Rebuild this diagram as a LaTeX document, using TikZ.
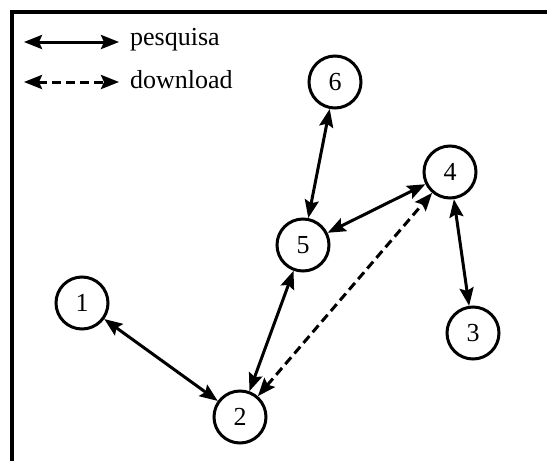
\documentclass[tikz,border=0pt]{standalone}
\usepackage{fontspec}
\setmainfont{Liberation Serif}
\usetikzlibrary{arrows.meta}
\begin{document}
\begin{tikzpicture}[x=1pt,y=-1pt,
  peer/.style={circle,draw,line width=3pt,minimum size=52pt,inner sep=0pt,font=\fontsize{26}{30}\selectfont},
  link/.style={line width=3pt,{Stealth[length=18pt,width=14pt,inset=3pt]}-{Stealth[length=18pt,width=14pt,inset=3pt]}},
  dl/.style={link,dash pattern=on 9pt off 5pt},
  lbl/.style={anchor=west,inner sep=0pt,font=\fontsize{26}{30}\selectfont}]
\useasboundingbox (0,0) rectangle (547,461);
\draw[line width=3.2pt] (547,12) -- (12,12) -- (12,461);
% legend
\coordinate (p1) at (24,42);
\coordinate (p2) at (119,42);
\coordinate (d1) at (24,82);
\coordinate (d2) at (119,82);
\draw[link] (p1) -- (p2);
\draw[dl] (d1) -- (d2);
\node[lbl] (tp) at (130,40) {pesquisa};
\node[lbl] (td) at (130,80) {download};
% peers
\node[peer] (n6) at (335,82) {6};
\node[peer] (n4) at (450,172) {4};
\node[peer] (n5) at (303,245) {5};
\node[peer] (n3) at (473,333) {3};
\node[peer] (n1) at (82,303) {1};
\node[peer] (n2) at (240,417) {2};
% links
\draw[link] (n6) -- (n5);
\draw[link] (n5) -- (n4);
\draw[link] (n4) -- (n3);
\draw[link] (n5) -- (n2);
\draw[link] (n1) -- (n2);
\draw[dl] (n2) -- (n4);
\end{tikzpicture}
\end{document}
